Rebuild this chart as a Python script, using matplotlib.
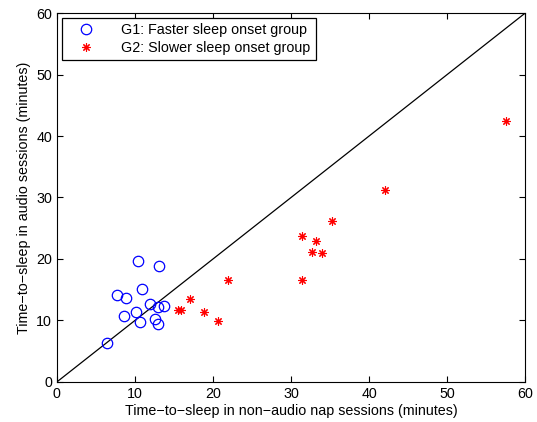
import matplotlib
matplotlib.use("Agg")
import matplotlib.pyplot as plt

plt.rcParams['font.family'] = ['Liberation Sans', 'DejaVu Sans']

# G1: faster sleep onset group
g1_x = [10.35, 13.1, 10.9, 7.65, 8.9, 11.9, 12.9, 13.7, 10.1, 8.6, 10.6, 12.6, 12.9, 6.4]
g1_y = [19.7, 18.9, 15.1, 14.2, 13.7, 12.7, 12.2, 12.4, 11.4, 10.7, 9.8, 10.2, 9.4, 6.4]

# G2: slower sleep onset group
g2_x = [35.2, 31.4, 33.2, 32.7, 34.0, 21.9, 31.4, 17.1, 15.5, 15.9, 18.9, 20.7, 57.6, 42.0]
g2_y = [26.2, 23.8, 23.0, 21.2, 21.0, 16.5, 16.5, 13.5, 11.7, 11.7, 11.4, 9.9, 42.5, 31.2]

ticks = [0, 10, 20, 30, 40, 50, 60]

fig = plt.figure(figsize=(5.37, 4.22), dpi=100)
ax = fig.add_axes([0.106, 0.095, 0.872, 0.874])

ax.plot(ticks, ticks, color="black", linewidth=0.9, zorder=1)
ax.plot(g1_x, g1_y, linestyle="none", marker="o", markersize=7.5,
        markerfacecolor="none", markeredgecolor="blue", markeredgewidth=0.9,
        label="G1: Faster sleep onset group")
ax.plot(g2_x, g2_y, linestyle="none", marker=(8, 2, 0), markersize=6,
        color="red", markeredgewidth=0.8,
        label="G2: Slower sleep onset group")

ax.set_xlim(0, 60)
ax.set_ylim(0, 60)
ax.set_xticks(ticks)
ax.set_yticks(ticks)
ax.tick_params(direction="in", top=True, right=True, labelsize=10.3, length=4)
ax.set_xlabel("Time\u2212to\u2212sleep in non\u2212audio nap sessions (minutes)", fontsize=10.3, labelpad=2)
ax.set_ylabel("Time\u2212to\u2212sleep in audio sessions (minutes)", fontsize=10.3, labelpad=4)

leg = ax.legend(loc="upper left", fontsize=10.3, fancybox=False, framealpha=1,
                edgecolor="black", borderaxespad=0.35, handlelength=2.6,
                handletextpad=1.2, borderpad=0.35, labelspacing=0.3)
leg.get_frame().set_linewidth(0.9)

fig.savefig("out.png", dpi=100)
